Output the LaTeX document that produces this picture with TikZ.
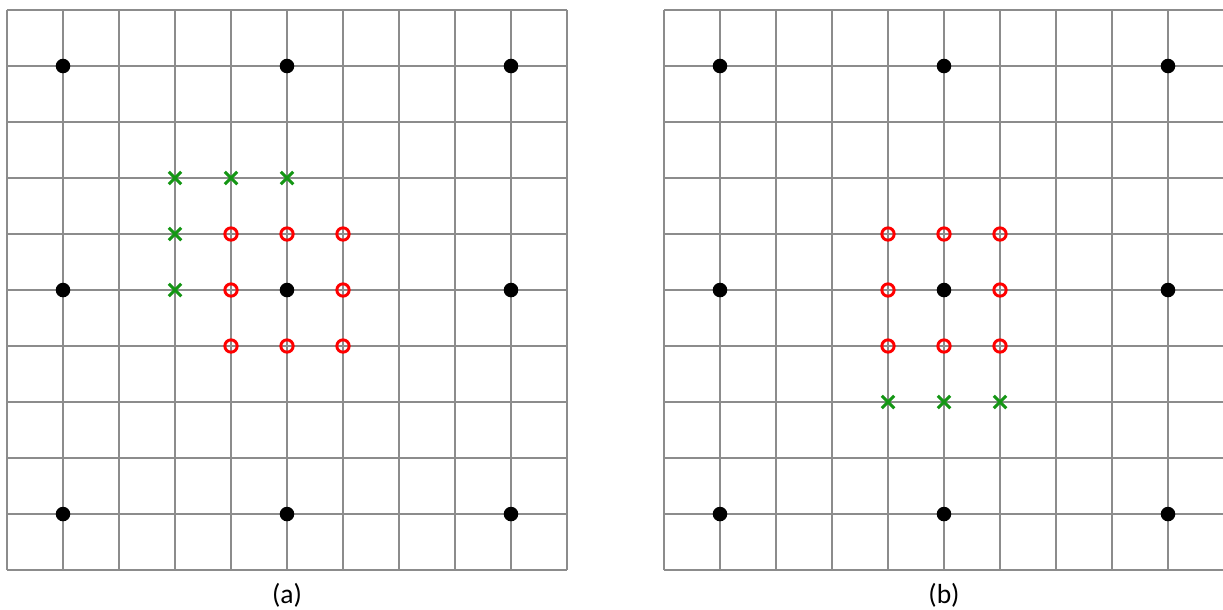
\documentclass[tikz,border=0pt]{standalone}
\usepackage{fontspec}
\setmainfont{Carlito}
\usetikzlibrary{shapes.misc}
\definecolor{gridgray}{RGB}{140,140,140}
\definecolor{crossgreen}{RGB}{20,150,20}
\tikzset{
  gridline/.style={gridgray, line width=1.3pt},
  dot/.style={circle, fill=black, inner sep=0pt, minimum size=0.26cm},
  ring/.style={circle, draw=red, line width=1.5pt, inner sep=0pt, minimum size=0.22cm},
  cross/.style={cross out, draw=crossgreen, line width=1.5pt, inner sep=0pt, minimum size=0.17cm},
  caption/.style={font=\fontsize{14}{17}\selectfont},
}
\begin{document}
\begin{tikzpicture}
    \useasboundingbox (-0.125,-0.696) rectangle (21.714,10.179);
    % (a)
    \draw[gridline] (0,0) grid (10,10);
    \foreach \i in {1,5,9} \foreach \j in {1,5,9} \node[dot] (a-\i-\j) at (\i,\j) {};
    \foreach \i/\j in {3/7,4/7,5/7,3/6,3/5} \node[cross] (ax-\i-\j) at (\i,\j) {};
    \foreach \i/\j in {4/6,5/6,6/6,4/5,6/5,4/4,5/4,6/4} \node[ring] (ao-\i-\j) at (\i,\j) {};
    \node[caption] (capa) at (5,-0.45) {(a)};
    % (b)
    \begin{scope}[xshift=11.732cm]
        \draw[gridline] (0,0) grid (10,10);
        \foreach \i in {1,5,9} \foreach \j in {1,5,9} \node[dot] (b-\i-\j) at (\i,\j) {};
        \foreach \i in {4,5,6} \node[cross] (bx-\i) at (\i,3) {};
        \foreach \i/\j in {4/6,5/6,6/6,4/5,6/5,4/4,5/4,6/4} \node[ring] (bo-\i-\j) at (\i,\j) {};
        \node[caption] (capb) at (5,-0.45) {(b)};
    \end{scope}
\end{tikzpicture}
\end{document}
